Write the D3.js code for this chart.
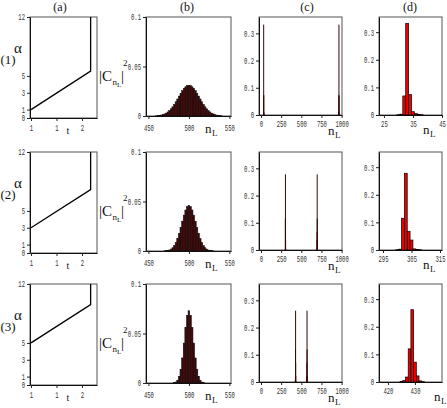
<!DOCTYPE html>
<html><head><meta charset="utf-8">
<script src="https://cdn.jsdelivr.net/npm/d3@7"></script>
<style>
body{margin:0;background:#fff}
svg{display:block}
.lab{font-family:"Liberation Serif","Times New Roman",serif;fill:#111}
</style></head><body>
<svg id="c" width="447" height="408"></svg>
<script>
// ---------- data ----------
const rowLabels = ["(1)", "(2)", "(3)"];
const colTitles = ["(a)", "(b)", "(c)", "(d)"];

// (a) alpha(t)
const alphaT = [[0, 2.34, 2.34], [0, 2.34, 2.34], [0, 2.34, 2.34]];
const alphaV = [[1, 5.58, 12], [3, 7.53, 12], [5, 9.55, 12]];
const aYTicks = [0, 1, 3, 5, 12];
const aXTicks = [0, 1, 2];
const aXTickLabels = ["1", "1", "2"];

// (b) |C_nL|^2 around 500 (every second n)
const bN = [460,462,464,466,468,470,472,474,476,478,480,482,484,486,488,490,492,494,496,498,500,
            502,504,506,508,510,512,514,516,518,520,522,524,526,528,530,532,534,536,538,540];
const b1 = [0.0002,0.0004,0.0006,0.0010,0.0014,0.0021,0.0029,0.0041,0.0055,0.0073,0.0093,0.0117,0.0144,0.0172,0.0201,0.0230,0.0256,0.0278,0.0295,0.0306,0.0310,
            0.0306,0.0295,0.0278,0.0256,0.0230,0.0201,0.0172,0.0144,0.0117,0.0093,0.0073,0.0055,0.0041,0.0029,0.0021,0.0014,0.0010,0.0006,0.0004,0.0002];
const b2 = [0,0,0,0,0,0.0001,0.0003,0.0005,0.0010,0.0019,0.0033,0.0054,0.0085,0.0126,0.0177,0.0237,0.0301,0.0362,0.0414,0.0448,0.0460,
            0.0448,0.0414,0.0362,0.0301,0.0237,0.0177,0.0126,0.0085,0.0054,0.0033,0.0019,0.0010,0.0005,0.0003,0.0001,0,0,0,0,0];
const b3 = [0,0,0,0,0,0,0,0,0,0,0,0.0004,0.0010,0.0028,0.0068,0.0139,0.0253,0.0403,0.0561,0.0683,0.0730,
            0.0683,0.0561,0.0403,0.0253,0.0139,0.0068,0.0028,0.0010,0.0004,0,0,0,0,0,0,0,0,0,0,0];
const bYTicks = [0, 0.05, 0.1];
const bYTickLabels = ["0", "0.05", "0.1"];
const bXTicks = [450, 500, 550];

// (c) full distribution: two peaks
const cN1 = [30,31,32,33,34,35,36,37,38, 962,963,964,965,966,967,968,969,970];
const c1  = [0.001,0.003,0.069,0.332,0.074,0.012,0.005,0.002,0.001, 0.001,0.002,0.005,0.012,0.074,0.332,0.069,0.003,0.001];
const cN2 = [300,301,302,303,304,305,306,307,308, 692,693,694,695,696,697,698,699,700];
const c2  = [0.001,0.003,0.115,0.278,0.067,0.036,0.004,0.002,0.001, 0.001,0.002,0.004,0.036,0.067,0.278,0.115,0.003,0.001];
const cN3 = [425,426,427,428,429,430,431,432,433, 567,568,569,570,571,572,573,574,575];
const c3  = [0.002,0.005,0.018,0.120,0.262,0.072,0.022,0.004,0.001, 0.001,0.004,0.022,0.072,0.262,0.120,0.018,0.005,0.002];
const cYTicks = [0, 0.1, 0.2, 0.3];
const cXTicks = [0, 250, 500, 750, 1000];

// (d) zoom on the left peak
const dN1 = [30,31,32,33,34,35,36,37,38];
const d1  = [0.001,0.003,0.069,0.332,0.074,0.012,0.005,0.002,0.001];
const dN2 = [300,301,302,303,304,305,306,307,308];
const d2  = [0.001,0.003,0.115,0.278,0.067,0.036,0.004,0.002,0.001];
const dN3 = [425,426,427,428,429,430,431,432,433];
const d3v = [0.002,0.005,0.018,0.120,0.262,0.072,0.022,0.004,0.001];
const dXTicks = [[25, 35, 45], [295, 305, 315], [420, 430]];
const dXDomains = [[23.3, 45], [293.6, 315.7], [416.7, 440]];

// ---------- drawing ----------
const svg = d3.select("#c");
const rowOff = [0, 135, 267];
const labY = [133, 133, 133];   // baseline of bottom axis titles per row
const cLabX = [328, 328, 328];
const dLabX = [423, 423, 434];
const TS = 0.62; // horizontal squeeze of tick font

function styleTicks(sel, side, gap) {
  sel.selectAll(".tick text")
    .attr("font-family", "'Liberation Mono', monospace")
    .attr("font-size", 9)
    .attr("fill", "#333")
    .attr("transform", `scale(${TS},1)`);
  if (side === "left") sel.selectAll(".tick text").attr("x", -gap / TS);
  sel.selectAll(".tick line").attr("stroke", "#222");
  sel.select(".domain").attr("stroke", "#111");
}

function panel(g, xs, ys, xt, xtl, yt, ytl, xPad) {
  const [x0, x1] = xs.range();
  const [yb, yt0] = ys.range();
  g.append("rect").attr("x", x0).attr("y", yt0).attr("width", x1 - x0).attr("height", yb - yt0)
    .attr("fill", "none").attr("stroke", "#555").attr("stroke-width", 1);
  const ax = g.append("g").attr("transform", `translate(0,${yb})`)
    .call(d3.axisBottom(xs).tickValues(xt).tickFormat((d, i) => xtl[i]).tickSize(3).tickSizeOuter(0).tickPadding(xPad));
  styleTicks(ax, "bottom", 0);
  const ay = g.append("g").attr("transform", `translate(${x0},0)`)
    .call(d3.axisLeft(ys).tickValues(yt).tickFormat((d, i) => ytl[i]).tickSize(3).tickSizeOuter(0));
  styleTicks(ay, "left", 5);
}

function nLabel(g, x, y) {
  g.append("text").attr("class", "lab").attr("x", x).attr("y", y).attr("font-size", 13).text("n");
  g.append("text").attr("class", "lab").attr("x", x + 7).attr("y", y + 3).attr("font-size", 9).text("L");
}

const bSeries = [b1, b2, b3];
const cSeries = [[cN1, c1], [cN2, c2], [cN3, c3]];
const dSeries = [[dN1, d1], [dN2, d2], [dN3, d3v]];

// column titles
const titleX = [60, 187, 307, 410];
colTitles.forEach((t, i) => svg.append("text").attr("class", "lab").attr("x", titleX[i]).attr("y", 11)
  .attr("text-anchor", "middle").attr("font-size", 12).text(t));

for (let r = 0; r < 3; r++) {
  const g = svg.append("g").attr("transform", `translate(0,${rowOff[r]})`);
  const ly = labY[r];

  // row label and alpha
  g.append("text").attr("class", "lab").attr("x", 8).attr("y", 64).attr("text-anchor", "middle").attr("font-size", 13).text(rowLabels[r]);
  g.append("text").attr("class", "lab").attr("x", 18).attr("y", 53).attr("text-anchor", "middle").attr("font-size", 15).text("α");

  // (a)
  const xa = d3.scaleLinear().domain([-0.04, 2.59]).range([30, 97]);
  const ya = d3.scaleLinear().domain([0, 12]).range([118, 17]);
  panel(g, xa, ya, aXTicks, aXTickLabels, aYTicks, aYTicks.map(String), 4);
  g.append("path").datum(d3.range(alphaT[r].length))
    .attr("d", d3.line().x(i => xa(alphaT[r][i])).y(i => ya(alphaV[r][i])))
    .attr("fill", "none").attr("stroke", "#000").attr("stroke-width", 1.3);
  g.append("text").attr("class", "lab").attr("x", 68).attr("y", ly + 1).attr("text-anchor", "middle").attr("font-size", 10).text("t");

  // |C_nL|^2 label
  g.append("text").attr("class", "lab").attr("x", 99).attr("y", 81).attr("font-size", 15).text("|C");
  g.append("text").attr("class", "lab").attr("x", 112.5).attr("y", 85).attr("font-size", 9).text("n");
  g.append("text").attr("class", "lab").attr("x", 117).attr("y", 87).attr("font-size", 7).text("L");
  g.append("text").attr("class", "lab").attr("x", 121).attr("y", 81).attr("font-size", 15).text("|");
  g.append("text").attr("class", "lab").attr("x", 123).attr("y", 66).attr("font-size", 9).text("2");

  // (b)
  const xb = d3.scaleLinear().domain([447, 552]).range([146, 231]);
  const yb = d3.scaleLinear().domain([0, 0.1]).range([116, 17]);
  panel(g, xb, yb, bXTicks, bXTicks.map(String), bYTicks, bYTickLabels, 6);
  g.append("g").selectAll("rect").data(bN).join("rect")
    .attr("x", n => xb(n - 1)).attr("width", n => xb(n + 1) - xb(n - 1))
    .attr("y", (n, i) => yb(bSeries[r][i])).attr("height", (n, i) => yb(0) - yb(bSeries[r][i]))
    .attr("fill", "#4a0000").attr("stroke", "#111").attr("stroke-width", 0.55);
  nLabel(g, 205, ly);

  // (c)
  const xc = d3.scaleLinear().domain([-25, 1005]).range([259, 342]);
  const yc = d3.scaleLinear().domain([0, 0.36]).range([115, 17]);
  panel(g, xc, yc, cXTicks, cXTicks.map(String), cYTicks, cYTicks.map(String), 3);
  const [cn, cv] = cSeries[r];
  g.append("g").selectAll("rect").data(cn).join("rect")
    .attr("x", n => xc(n) - 0.5).attr("width", 1)
    .attr("y", (n, i) => yc(cv[i])).attr("height", (n, i) => yc(0) - yc(cv[i]))
    .attr("fill", "#3a0505");
  nLabel(g, cLabX[r], ly + 2);

  // (d)
  const xd = d3.scaleLinear().domain(dXDomains[r]).range([379, 442]);
  const yd = d3.scaleLinear().domain([0, 0.355]).range([115, 17]);
  panel(g, xd, yd, dXTicks[r], dXTicks[r].map(String), cYTicks, cYTicks.map(String), 3);
  const [dn, dv] = dSeries[r];
  g.append("g").selectAll("rect").data(dn).join("rect")
    .attr("x", n => xd(n - 0.5)).attr("width", n => xd(n + 0.5) - xd(n - 0.5))
    .attr("y", (n, i) => yd(dv[i])).attr("height", (n, i) => yd(0) - yd(dv[i]))
    .attr("fill", "#ee0000").attr("stroke", "#000").attr("stroke-width", 0.7);
  nLabel(g, dLabX[r], ly + 1);
}
</script>
</body></html>
